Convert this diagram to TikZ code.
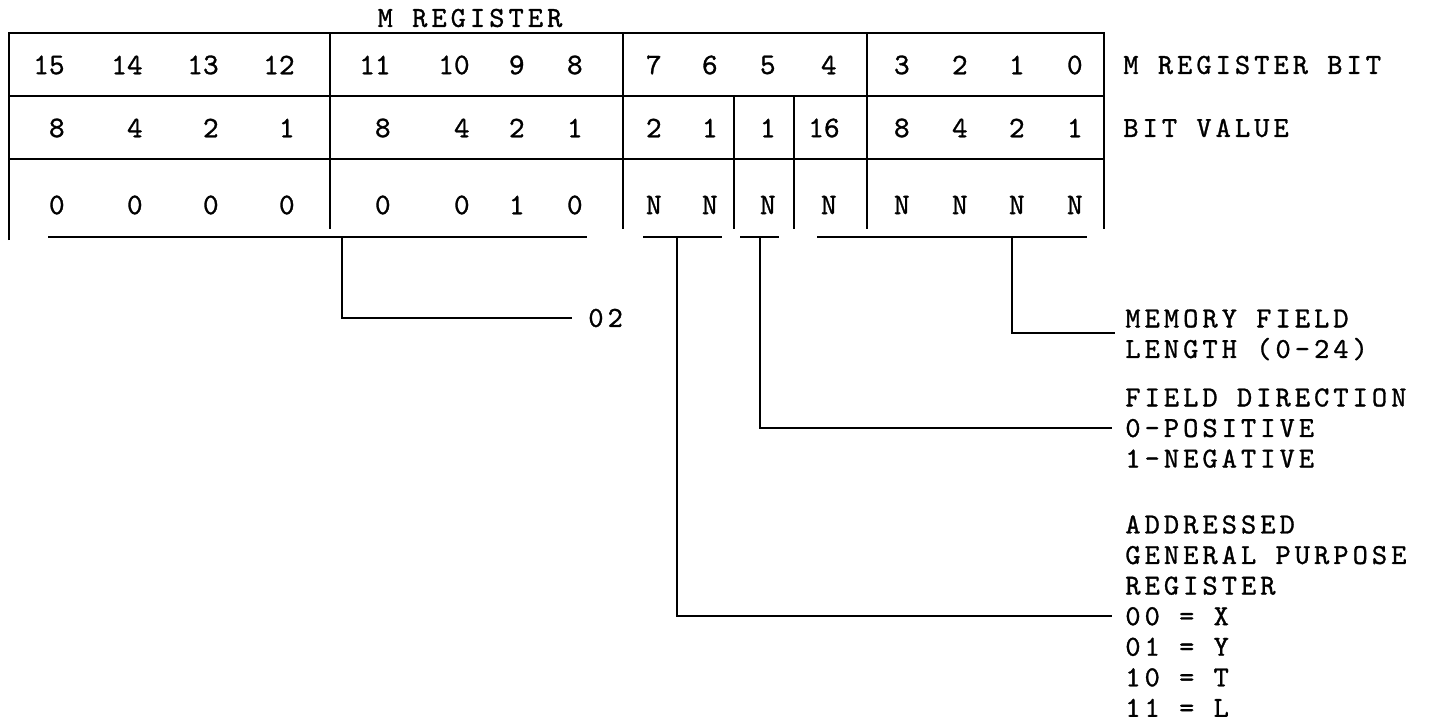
\documentclass[tikz,border=0pt]{standalone}
\usepackage{fontspec}
\newfontfamily\regfont{lmmono10-regular}[Extension=.otf,LetterSpace=14,FakeBold=1]
\newfontfamily\cellfont{lmmono10-regular}[Extension=.otf,FakeBold=1]

\begin{document}
\begin{tikzpicture}[x=0.02cm, y=-0.02cm,
    cell/.style={font=\cellfont\fontsize{17}{18}\selectfont, anchor=east, inner sep=0pt},
    lbl/.style={font=\regfont\fontsize{16.5}{17.4}\selectfont, anchor=west, align=left, inner sep=0pt},
    rule/.style={line width=1.6pt},
    lead/.style={line width=1.6pt}
]
\useasboundingbox (0,0) rectangle (1431,723);

% register table
\draw[rule] (9,240) -- (9,33) -- (1104,33) -- (1104,229);
\foreach \y in {96,159} \draw[rule] (9,\y) -- (1104,\y);
\foreach \x in {330,623,867} \draw[rule] (\x,33) -- (\x,229);
\foreach \x in {734,794} \draw[rule] (\x,96) -- (\x,229);

\node[lbl, anchor=center] (title) at (470,18) {M REGISTER};

\foreach \x/\t in {65/15,143/14,219/13,295/12,391/11,470/10,525/9,583/8,
                   662/7,718/6,776/5,837/4,910/3,968/2,1025/1,1083/0}
    \node[cell] (bit\t) at (\x,65) {\t};
\foreach \x/\t [count=\i] in {65/8,143/4,219/2,295/1,391/8,470/4,525/2,583/1,
                   662/2,718/1,776/1,840/16,910/8,968/4,1025/2,1083/1}
    \node[cell] (val\i) at (\x,128) {\t};
\foreach \x/\t [count=\i] in {65/0,143/0,219/0,295/0,391/0,470/0,525/1,583/0,
                   662/N,718/N,776/N,837/N,910/N,968/N,1025/N,1083/N}
    \node[cell] (fld\i) at (\x,205) {\t};

\node[lbl] (bitrow) at (1123,65) {M REGISTER BIT};
\node[lbl] (valrow) at (1123,128) {BIT VALUE};

% field brackets
\foreach \a/\b in {48/587,643/722,740/779,817/1087} \draw[rule] (\a,237) -- (\b,237);
\coordinate (opc) at (342,237);
\coordinate (gpr) at (677,237);
\coordinate (dir) at (760,237);
\coordinate (len) at (1012,237);

\node[lbl] (opcode) at (588,318) {02};
\node[lbl, anchor=north west] (memlen) at (1125,309) {MEMORY FIELD\\LENGTH (0-24)};
\node[lbl, anchor=north west] (fielddir) at (1125,388) {FIELD DIRECTION\\0-POSITIVE\\1-NEGATIVE};
\node[lbl, anchor=north west] (gpreg) at (1125,515)
    {ADDRESSED\\GENERAL PURPOSE\\REGISTER\\00 = X\\01 = Y\\10 = T\\11 = L};

\coordinate (opcin) at (572,318);
\coordinate (lenin) at (1115,333);
\coordinate (dirin) at (1112,428);
\coordinate (gprin) at (1112,616);

\draw[lead] (opc) |- (opcin);
\draw[lead] (len) |- (lenin);
\draw[lead] (dir) |- (dirin);
\draw[lead] (gpr) |- (gprin);
\end{tikzpicture}
\end{document}
